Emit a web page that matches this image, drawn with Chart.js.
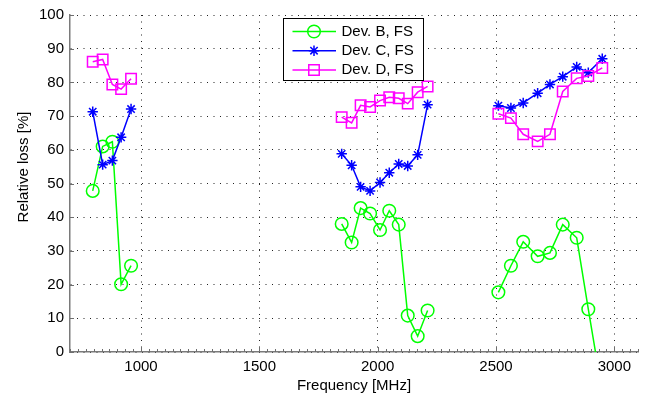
<!DOCTYPE html>
<html>
<head>
<meta charset="utf-8">
<script src="https://cdn.jsdelivr.net/npm/chart.js@4"></script>
<style>
    html, body { margin: 0; padding: 0; background: #fff; }
    canvas { display: block; }
</style>
</head>
<body>
<canvas id="chart" width="652" height="401"></canvas>
<script>
// frequencies [MHz] of the three measured bands
const freqLow = [796, 838, 879, 916, 958];
const freqMid = [1848, 1890, 1928, 1968, 2010, 2049, 2089, 2127, 2169, 2211];
const freqHigh = [2510, 2563, 2615, 2676, 2728, 2782, 2841, 2890, 2949];

// relative loss [%]
const devBLow = [47.8, 61.0, 62.4, 20.1, 25.6];
const devBMid = [38.0, 32.5, 42.7, 41.1, 36.2, 41.9, 37.8, 10.8, 4.7, 12.3];
const devBHigh = [17.7, 25.6, 32.7, 28.4, 29.4, 37.8, 33.9, 12.7, -12];

const devCLow = [71.3, 55.6, 56.8, 63.7, 72.1];
const devCMid = [58.8, 55.4, 49.0, 47.8, 50.3, 53.2, 55.8, 55.2, 58.5, 73.4];
const devCHigh = [73.1, 72.4, 73.9, 76.8, 79.4, 81.7, 84.6, 82.9, 87.0];

const devDLow = [86.1, 86.8, 79.4, 78.0, 81.1];
const devDMid = [69.7, 68.0, 73.2, 72.7, 74.6, 75.6, 75.3, 73.7, 77.1, 78.8];
const devDHigh = [70.7, 69.4, 64.6, 62.5, 64.6, 77.3, 81.2, 81.9, 84.3];

const seriesLabels = ['Dev. B, FS', 'Dev. C, FS', 'Dev. D, FS'];
const xTicks = [1000, 1500, 2000, 2500, 3000];
const yTicks = [0, 10, 20, 30, 40, 50, 60, 70, 80, 90, 100];

const FONT = "'Liberation Sans', Arial, Helvetica, sans-serif";

function band(xs, ys) {
    return xs.map((x, i) => ({ x, y: ys[i] }));
}

// null points break the line between the bands
function series(low, mid, high) {
    return [
        ...band(freqLow, low),
        { x: 1400, y: null },
        ...band(freqMid, mid),
        { x: 2350, y: null },
        ...band(freqHigh, high),
    ];
}

const styles = [
    { color: '#00ff00', pointStyle: 'circle', radius: 6.3 },
    { color: '#0000ff', pointStyle: 'star', radius: 5.2 },
    { color: '#ff00ff', pointStyle: 'rect', radius: 7.4 },
];

const allData = [
    series(devBLow, devBMid, devBHigh),
    series(devCLow, devCMid, devCHigh),
    series(devDLow, devDMid, devDHigh),
];

const datasets = allData.map((data, i) => ({
    label: seriesLabels[i],
    data,
    borderColor: styles[i].color,
    borderWidth: 1.5,
    pointStyle: styles[i].pointStyle,
    pointRadius: styles[i].radius,
    pointBorderColor: styles[i].color,
    pointBackgroundColor: 'rgba(0,0,0,0)',
    pointBorderWidth: 1.5,
    spanGaps: false,
    tension: 0,
    order: 3 - i,
}));

// inward major/minor tick marks like the original axes
const axisTicks = {
    id: 'axisTicks',
    beforeDatasetsDraw(chart) {
        const { ctx, chartArea } = chart;
        const xs = chart.scales.x;
        const ys = chart.scales.y;
        ctx.save();
        ctx.strokeStyle = '#6e6e6e';
        ctx.lineWidth = 1;
        ctx.beginPath();
        for (let v = xs.min; v <= xs.max + 0.01; v += 500 / 15) {
            const px = Math.round(xs.getPixelForValue(v)) + 0.5;
            ctx.moveTo(px, chartArea.bottom);
            ctx.lineTo(px, chartArea.bottom - 3);
        }
        xTicks.forEach((v) => {
            const px = Math.round(xs.getPixelForValue(v)) + 0.5;
            ctx.moveTo(px, chartArea.bottom);
            ctx.lineTo(px, chartArea.bottom - 5);
        });
        yTicks.forEach((v) => {
            const py = Math.round(ys.getPixelForValue(v)) + 0.5;
            ctx.moveTo(chartArea.left, py);
            ctx.lineTo(chartArea.left + 4, py);
        });
        ctx.stroke();
        ctx.restore();
    },
};

// boxed legend inside the plot, line + marker samples
const boxLegend = {
    id: 'boxLegend',
    afterDraw(chart) {
        const { ctx } = chart;
        const bx = 283.5, by = 18.5, bw = 140, bh = 62;
        ctx.save();
        ctx.fillStyle = '#fff';
        ctx.fillRect(bx, by, bw, bh);
        ctx.strokeStyle = '#000';
        ctx.lineWidth = 1;
        ctx.strokeRect(bx, by, bw, bh);

        seriesLabels.forEach((label, i) => {
            const y = 31.5 + i * 19.2;
            const st = styles[i];
            ctx.strokeStyle = st.color;
            ctx.lineWidth = 1.5;
            ctx.beginPath();
            ctx.moveTo(292.5, y);
            ctx.lineTo(336, y);
            ctx.stroke();
            ctx.fillStyle = 'rgba(0,0,0,0)';
            Chart.helpers.drawPoint(ctx, {
                pointStyle: st.pointStyle,
                radius: st.radius,
                rotation: 0,
                borderWidth: 1.5,
            }, 314, y);

            ctx.fillStyle = '#000';
            ctx.font = '15px ' + FONT;
            ctx.textAlign = 'left';
            ctx.textBaseline = 'middle';
            ctx.fillText(label, 341.5, y);
        });
        ctx.restore();
    },
};

// y axis title, placed like the original (a bit above the axis centre)
const yTitle = {
    id: 'yTitle',
    afterDraw(chart) {
        const { ctx } = chart;
        ctx.save();
        ctx.translate(23.5, 167);
        ctx.rotate(-Math.PI / 2);
        ctx.fillStyle = '#000';
        ctx.font = '15px ' + FONT;
        ctx.textAlign = 'center';
        ctx.textBaseline = 'middle';
        ctx.fillText('Relative loss [%]', 0, 0);
        ctx.restore();
    },
};

Chart.defaults.font.family = FONT;
Chart.defaults.font.size = 15;
Chart.defaults.color = '#000';

new Chart(document.getElementById('chart'), {
    type: 'line',
    data: { datasets },
    options: {
        responsive: false,
        animation: false,
        devicePixelRatio: 1,
        events: [],
        layout: {
            padding: { top: 11, right: 14, bottom: 0, left: 0 },
        },
        plugins: {
            legend: { display: false },
            tooltip: { enabled: false },
        },
        scales: {
            x: {
                type: 'linear',
                min: 700,
                max: 3100,
                afterBuildTicks: (scale) => {
                    scale.ticks = xTicks.map((v) => ({ value: v }));
                },
                afterFit: (scale) => {
                    scale.height = 49;
                },
                ticks: {
                    padding: 6,
                    maxRotation: 0,
                    callback: (v) => String(v),
                },
                grid: {
                    color: '#222',
                    lineWidth: 1,
                    drawTicks: false,
                },
                border: {
                    color: '#7a7a7a',
                    width: 1.5,
                    dash: [1, 5.5],
                },
                title: {
                    display: true,
                    text: 'Frequency [MHz]',
                    padding: { top: 0, bottom: 6 },
                },
            },
            y: {
                min: 0,
                max: 100,
                afterBuildTicks: (scale) => {
                    scale.ticks = yTicks.map((v) => ({ value: v }));
                },
                afterFit: (scale) => {
                    scale.width = 70;
                },
                ticks: {
                    padding: 6,
                    callback: (v) => String(v),
                },
                grid: {
                    color: '#222',
                    lineWidth: 1,
                    drawTicks: false,
                },
                border: {
                    color: '#7a7a7a',
                    width: 1.5,
                    dash: [1, 5.5],
                },
            },
        },
    },
    plugins: [axisTicks, boxLegend, yTitle],
});
</script>
</body>
</html>
